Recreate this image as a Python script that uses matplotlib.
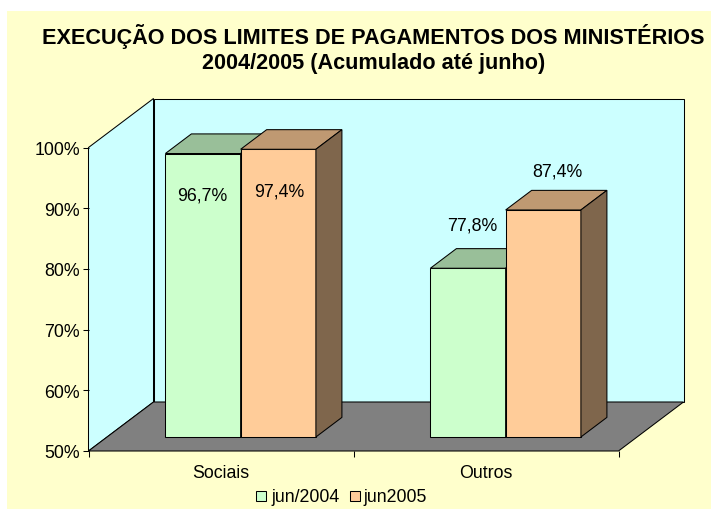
import matplotlib
matplotlib.use("Agg")
import matplotlib.pyplot as plt
from matplotlib.patches import Polygon, Rectangle

plt.rcParams['font.family'] = ['Liberation Sans', 'DejaVu Sans']

categories = ['Sociais', 'Outros']
series_names = ['jun/2004', 'jun2005']
series_2004 = [96.7, 77.8]
series_2005 = [97.4, 87.4]
value_labels_2004 = ['96,7%', '77,8%']
value_labels_2005 = ['97,4%', '87,4%']
y_ticks = [50, 60, 70, 80, 90, 100]
y_tick_labels = ['50%', '60%', '70%', '80%', '90%', '100%']
title = 'EXECUÇÃO DOS LIMITES DE PAGAMENTOS DOS MINISTÉRIOS\n2004/2005 (Acumulado até junho)'

W, H = 711, 510
BG, WALL, FLOOR = '#FFFFCC', '#CCFFFF', '#808080'
GREEN, GREEN_TOP, GREEN_SIDE = '#CCFFCC', '#99BF99', '#7F9F7F'
ORANGE, ORANGE_TOP, ORANGE_SIDE = '#FFCC99', '#BF9972', '#7F664C'
LW = 0.75
FS = 12.8

fig = plt.figure(figsize=(W / 100, H / 100), dpi=100, facecolor='white')
fig.patches.append(Rectangle((7 / W, 0), 1 - 7 / W, 1 - 12 / H, transform=fig.transFigure,
                             facecolor=BG, edgecolor='none', zorder=-5))

# front axis box: x 88.5..618.5 px, y(100%) 148.5 .. y(50%) 452 px
L, R, T, B = 88.5, 618.5, 148.5, 452.0
ax = fig.add_axes([L / W, 1 - B / H, (R - L) / W, (B - T) / H])
ax.set_xlim(0, 2)
ax.set_ylim(50, 100)
ax.patch.set_visible(False)
for s in ax.spines.values():
    s.set_visible(False)

DX = 65 / ((R - L) / 2)          # full depth in category units
DY = 49 / ((B - T) / 50)         # full depth in percentage points


def p(x, y, d=0.0):
    return (x + d * DX, y + d * DY)


def face(pts, fc, lw=LW, z=1):
    ax.add_patch(Polygon(pts, closed=True, facecolor=fc, edgecolor='black', linewidth=lw,
                         joinstyle='miter', clip_on=False, zorder=z))


# walls and floor
face([p(0, 50), p(0, 100), p(0, 100, 1), p(0, 50, 1)], WALL)
face([p(0, 50, 1), p(0, 100, 1), p(2, 100, 1), p(2, 50, 1)], WALL)
face([p(0, 50), p(0, 50, 1), p(2, 50, 1), p(2, 50)], FLOOR)

# bars
BAR_W = 0.284
BAR_START = 0.22
D0, D1 = 0.286, 0.686


def box(x0, x1, v, fc, top, side, z):
    face([p(x0, 50, D0), p(x1, 50, D0), p(x1, v, D0), p(x0, v, D0)], fc, z=z)
    face([p(x0, v, D0), p(x1, v, D0), p(x1, v, D1), p(x0, v, D1)], top, z=z)
    face([p(x1, 50, D0), p(x1, 50, D1), p(x1, v, D1), p(x1, v, D0)], side, z=z)


for i in range(len(categories)):
    x0 = i + BAR_START
    box(x0, x0 + BAR_W, series_2004[i], GREEN, GREEN_TOP, GREEN_SIDE, 2)
    box(x0 + BAR_W, x0 + 2 * BAR_W, series_2005[i], ORANGE, ORANGE_TOP, ORANGE_SIDE, 3)

# value labels
label_pos_2004 = [(0.428, 92.1), (1.447, 87.3)]
label_pos_2005 = [(0.719, 92.9), (1.768, 96.2)]
for (x, y), t in zip(label_pos_2004 + label_pos_2005, value_labels_2004 + value_labels_2005):
    ax.text(x, y, t, ha='center', va='center', fontsize=FS, color='black', zorder=5, clip_on=False)

# axes
ax.set_yticks(y_ticks)
ax.set_yticklabels(y_tick_labels, fontsize=FS)
ax.set_xticks([0, 1, 2])
ax.set_xticklabels([])
ax.set_xticks([0.5, 1.5], minor=True)
ax.set_xticklabels(categories, minor=True, fontsize=FS)
ax.tick_params(axis='x', which='major', length=4.5, width=LW, direction='out')
ax.tick_params(axis='x', which='minor', length=0, pad=9.5)
ax.tick_params(axis='y', length=4.5, width=LW, direction='out', pad=1.5)

fig.text(373.5 / W, 1 - 36.5 / H, title.split('\n')[0], ha='center', va='center', fontsize=15.6, fontweight='bold')
fig.text(373.5 / W, 1 - 63.5 / H, title.split('\n')[1], ha='center', va='center', fontsize=15.6, fontweight='bold')

# legend
for x_sq, x_t, name, col in [(255.7, 271.5, series_names[0], GREEN), (349.5, 363.5, series_names[1], ORANGE)]:
    fig.patches.append(Rectangle((x_sq / W, 1 - 502 / H), 10 / W, 10 / H, transform=fig.transFigure,
                                 facecolor=col, edgecolor='black', linewidth=LW))
    fig.text(x_t / W, 1 - 498 / H, name, ha='left', va='center', fontsize=FS)

fig.savefig('out.png', dpi=100, facecolor='white')
